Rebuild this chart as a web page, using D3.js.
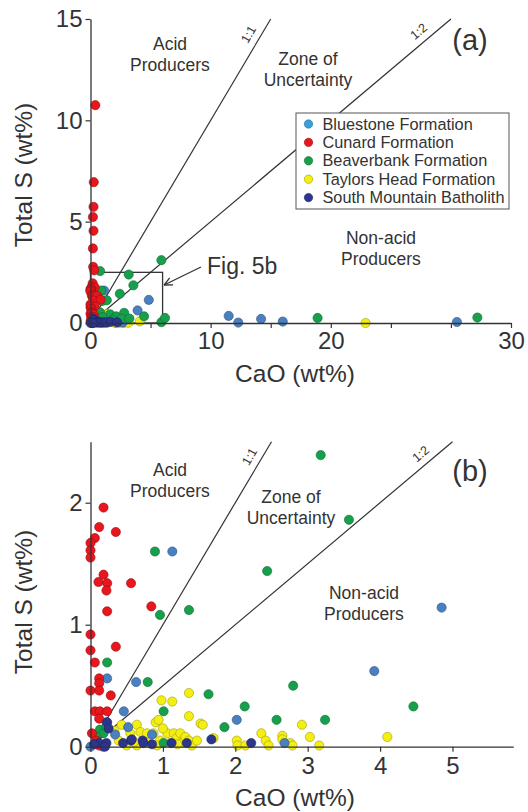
<!DOCTYPE html>
<html>
<head>
<meta charset="utf-8">
<script src="https://cdn.jsdelivr.net/npm/d3@7"></script>
<style>
  body { margin: 0; background: #fff; }
  svg { display: block; font-family: "Liberation Sans", Arial, sans-serif; }
</style>
</head>
<body>
<div id="chart"></div>
<script>
// Total S vs CaO, values as [CaO wt%, Total S wt%]
const seriesNames = ['Bluestone Formation', 'Cunard Formation', 'Beaverbank Formation',
                     'Taylors Head Formation', 'South Mountain Batholith'];

const bluestone = [
  [1.13, 1.60], [4.85, 1.14], [3.92, 0.62], [0.23, 0.56], [0.63, 0.53], [0.46, 0.29],
  [0.22, 0.20], [2.02, 0.22], [0.52, 0.16], [0.34, 0.10], [0.85, 0.10], [2.68, 0.03],
  [0.00, 0.00], [0.17, 0.00],
  [11.5, 0.35], [12.3, 0.02], [14.2, 0.20], [16.0, 0.07], [30.5, 0.05]
];

const cunard = [
  [0.18, 1.96], [0.12, 1.80], [0.35, 1.76], [0.06, 1.71], [0.00, 1.67], [0.00, 1.61],
  [0.00, 1.55], [0.18, 1.41], [0.11, 1.35], [0.23, 1.34], [0.22, 1.28], [0.56, 1.34],
  [0.23, 1.11], [0.84, 1.15], [0.00, 0.92], [0.35, 0.82], [0.00, 0.79], [0.06, 0.69],
  [0.12, 0.56], [0.12, 0.52], [0.00, 0.46], [0.12, 0.46], [0.28, 0.42], [0.06, 0.29],
  [0.13, 0.29], [0.23, 0.29], [0.12, 0.23], [0.02, 0.11], [0.12, 0.01], [0.08, 0.05],
  [0.40, 10.75], [0.27, 6.95], [0.25, 5.73], [0.20, 5.23], [0.25, 4.55], [0.20, 3.68],
  [0.22, 2.77], [0.30, 2.60]
];

const beaverbank = [
  [3.18, 2.39], [3.57, 1.86], [0.89, 1.60], [2.44, 1.44], [0.96, 1.08], [1.36, 1.12],
  [0.23, 0.69], [0.79, 0.53], [1.63, 0.43], [2.80, 0.50], [1.01, 0.29], [2.13, 0.33],
  [4.46, 0.33], [1.85, 0.16], [2.57, 0.22], [3.24, 0.22], [1.01, 0.03], [0.13, 0.14],
  [0.18, 0.11], [0.08, 0.08], [0.22, 0.16],
  [0.80, 2.56], [5.90, 3.10], [5.90, 0.04], [6.20, 0.25], [18.9, 0.25], [32.2, 0.27]
];

const taylorsHead = [
  [1.36, 0.44], [0.98, 0.38], [1.13, 0.37], [1.36, 0.25], [0.64, 0.18], [0.90, 0.20],
  [0.94, 0.22], [1.52, 0.19], [2.92, 0.18], [2.36, 0.11], [3.03, 0.08], [4.10, 0.08],
  [2.65, 0.09], [2.42, 0.05], [2.02, 0.05], [2.03, 0.01], [2.14, 0.01], [2.46, 0.01],
  [2.76, 0.03], [2.79, 0.01], [3.16, 0.01], [0.39, 0.05], [0.55, 0.11], [0.69, 0.12],
  [0.78, 0.11], [0.80, 0.03], [0.87, 0.11], [0.96, 0.05], [1.06, 0.11], [1.10, 0.03],
  [1.15, 0.11], [1.19, 0.07], [1.24, 0.11], [1.26, 0.03], [1.31, 0.08], [1.36, 0.05],
  [1.40, 0.01], [1.47, 0.05], [1.70, 0.07], [0.50, 0.01], [0.64, 0.01], [0.43, 0.18],
  [0.33, 0.13], [0.60, 0.04], [1.00, 0.15], [1.20, 0.02], [0.92, 0.01], [1.55, 0.18],
  [2.65, 0.06],
  [22.9, 0.00]
];

const southMountain = [
  [0.12, 0.03], [0.22, 0.03], [0.23, 0.20], [0.25, 0.15], [0.45, 0.03], [0.56, 0.05],
  [0.57, 0.06], [0.72, 0.05], [0.73, 0.03], [0.85, 0.02], [1.12, 0.03], [1.33, 0.03],
  [1.67, 0.06], [2.22, 0.03], [0.05, 0.02], [0.20, 0.00]
];

const seriesData = [bluestone, cunard, beaverbank, taylorsHead, southMountain];
const seriesColors = ['#4a7fc1', '#e8161d', '#17a04c', '#f4ef12', '#2c3590'];
const legendColors = ['#38a0dc', '#e8161d', '#17a04c', '#f4ef12', '#2c3590'];
const drawOrder = [3, 0, 2, 1, 4];

// axis ticks (the original labels its last panel-a tick "30")
const xTicksA = [0, 5, 10, 15, 20, 25, 30, 35];
const xTickLabelsA = ['0', '', '10', '', '20', '', '', '30'];
const yTicksA = [0, 5, 10, 15];
const xTicksB = [0, 1, 2, 3, 4, 5];
const yTicksB = [0, 1, 2];

const ratioLines = [{ label: '1:1', ratio: 1 }, { label: '1:2', ratio: 0.5 }];
const zoomBox = { cao: 6, s: 2.5 };

const ink = '#333';
const svg = d3.select('#chart').append('svg')
  .attr('width', 528)
  .attr('height', 812);

const panels = [
  {
    tag: '(a)', xDomain: [0, 35], xRange: [90.5, 511], yDomain: [0, 15], yRange: [323, 19],
    xTicks: xTicksA, xFmt: (d, i) => xTickLabelsA[i], yTicks: yTicksA, xPad: 4,
    labelS: 13.96, yTitleY: 175, xTitleY: 382,
    zones: [
      { lines: ['Acid', 'Producers'], x: 170, y: 50 },
      { lines: ['Zone of', 'Uncertainty'], x: 308, y: 65 },
      { lines: ['Non-acid', 'Producers'], x: 381, y: 244 }
    ],
    tagPos: [470, 50]
  },
  {
    tag: '(b)', xDomain: [0, 5.84], xRange: [90.5, 513.3], yDomain: [0, 2.5], yRange: [746.7, 441.7],
    xTicks: xTicksB, xFmt: d => d, yTicks: yTicksB, xPad: 5,
    labelS: 2.33, yTitleY: 602, xTitleY: 806,
    zones: [
      { lines: ['Acid', 'Producers'], x: 170, y: 476 },
      { lines: ['Zone of', 'Uncertainty'], x: 291, y: 503 },
      { lines: ['Non-acid', 'Producers'], x: 364, y: 599 }
    ],
    tagPos: [470, 481]
  }
];

panels.forEach((p, pi) => {
  const x = d3.scaleLinear().domain(p.xDomain).range(p.xRange);
  const y = d3.scaleLinear().domain(p.yDomain).range(p.yRange);
  const g = svg.append('g');

  // 1:1 and 1:2 lines, up to the top of the plot
  ratioLines.forEach(r => {
    const sTop = p.yDomain[1];
    const x0 = x(0), y0 = y(0), x1 = x(sTop / r.ratio), y1 = y(sTop);
    g.append('line')
      .attr('x1', x0).attr('y1', y0).attr('x2', x1).attr('y2', y1)
      .attr('stroke', ink).attr('stroke-width', 1.2);
    const angle = Math.atan2(y1 - y0, x1 - x0) * 180 / Math.PI;
    g.append('text')
      .attr('transform', `translate(${x(p.labelS / r.ratio)},${y(p.labelS)}) rotate(${angle})`)
      .attr('dy', -7)
      .attr('text-anchor', 'middle')
      .attr('font-size', 12.5)
      .attr('fill', ink)
      .text(r.label);
  });

  // zone labels
  p.zones.forEach(z => {
    const t = g.append('text')
      .attr('x', z.x).attr('y', z.y)
      .attr('text-anchor', 'middle')
      .attr('font-size', 17.5)
      .attr('fill', ink);
    z.lines.forEach((l, i) => {
      t.append('tspan').attr('x', z.x).attr('dy', i ? 20.5 : 0).text(l);
    });
  });

  g.append('text')
    .attr('x', p.tagPos[0]).attr('y', p.tagPos[1])
    .attr('text-anchor', 'middle')
    .attr('font-size', 29)
    .attr('fill', ink)
    .text(p.tag);

  // zoom box for Fig. 5b
  if (pi === 0) {
    g.append('rect')
      .attr('x', x(0)).attr('y', y(zoomBox.s))
      .attr('width', x(zoomBox.cao) - x(0))
      .attr('height', y(0) - y(zoomBox.s))
      .attr('fill', 'none').attr('stroke', ink).attr('stroke-width', 1.3);
    const ax0 = 201, ay0 = 267, ax1 = x(zoomBox.cao) + 1.5, ay1 = 285;
    g.append('line')
      .attr('x1', ax0).attr('y1', ay0).attr('x2', ax1).attr('y2', ay1)
      .attr('stroke', ink).attr('stroke-width', 1.3);
    const a = Math.atan2(ay0 - ay1, ax0 - ax1);
    [-0.45, 0.45].forEach(da => {
      g.append('line')
        .attr('x1', ax1).attr('y1', ay1)
        .attr('x2', ax1 + 9 * Math.cos(a + da)).attr('y2', ay1 + 9 * Math.sin(a + da))
        .attr('stroke', ink).attr('stroke-width', 1.3);
    });
    g.append('text')
      .attr('x', 207).attr('y', 274)
      .attr('font-size', 23)
      .attr('fill', ink)
      .text('Fig. 5b');
  }

  // points
  drawOrder.forEach(si => {
    const pts = seriesData[si].filter(d =>
      d[0] <= p.xDomain[1] && d[1] <= p.yDomain[1]);
    g.append('g').selectAll('circle')
      .data(pts)
      .join('circle')
      .attr('cx', d => x(d[0]))
      .attr('cy', d => y(d[1]))
      .attr('r', 4.6)
      .attr('fill', seriesColors[si])
      .attr('stroke', d3.color(seriesColors[si]).darker(1.2))
      .attr('stroke-width', 0.6);
  });

  // axes
  const xAxis = g.append('g')
    .attr('transform', `translate(0,${y(0)})`)
    .call(d3.axisBottom(x).tickValues(p.xTicks).tickFormat(p.xFmt)
      .tickSize(5).tickSizeOuter(0).tickPadding(p.xPad));
  const yAxis = g.append('g')
    .attr('transform', `translate(${x(0)},0)`)
    .call(d3.axisLeft(y).tickValues(p.yTicks).tickFormat(d3.format('d'))
      .tickSize(5).tickSizeOuter(0).tickPadding(3));
  [xAxis, yAxis].forEach(ax => {
    ax.select('.domain').attr('stroke', ink).attr('stroke-width', 1.3);
    ax.selectAll('.tick line').attr('stroke', ink).attr('stroke-width', 1.2);
    ax.selectAll('.tick text')
      .attr('fill', ink)
      .attr('font-size', 24)
      .attr('font-family', '"Liberation Sans", Arial, sans-serif');
  });

  g.append('text')
    .attr('transform', `translate(32,${p.yTitleY}) rotate(-90)`)
    .attr('text-anchor', 'middle')
    .attr('font-size', 24.5)
    .attr('fill', ink)
    .text('Total S (wt%)');

  g.append('text')
    .attr('x', 295).attr('y', p.xTitleY)
    .attr('text-anchor', 'middle')
    .attr('font-size', 24.5)
    .attr('fill', ink)
    .text('CaO (wt%)');
});

// legend (panel a)
const legend = svg.append('g').attr('transform', 'translate(296,113)');
legend.append('rect')
  .attr('width', 213).attr('height', 96)
  .attr('fill', '#fff').attr('stroke', '#555').attr('stroke-width', 1);
seriesNames.forEach((name, i) => {
  const row = legend.append('g').attr('transform', `translate(0,${11 + i * 18.4})`);
  row.append('circle')
    .attr('cx', 12.5).attr('cy', 0).attr('r', 4.2)
    .attr('fill', legendColors[i])
    .attr('stroke', d3.color(legendColors[i]).darker(1.2))
    .attr('stroke-width', 0.6);
  row.append('text')
    .attr('x', 26.5).attr('y', 5.6)
    .attr('font-size', 16.3)
    .attr('fill', ink)
    .text(name);
});
</script>
</body>
</html>
